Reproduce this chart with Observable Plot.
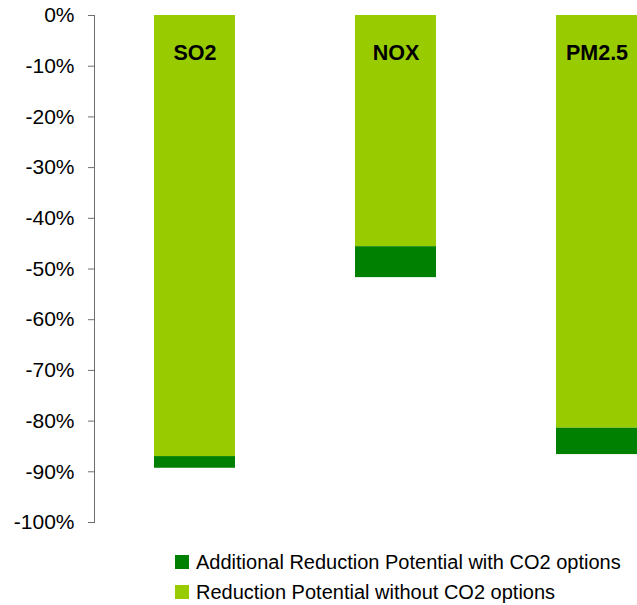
<!DOCTYPE html>
<html>
<head>
<meta charset="utf-8">
<script src="https://cdn.jsdelivr.net/npm/d3@7"></script>
<script src="https://cdn.jsdelivr.net/npm/@observablehq/plot@0.6"></script>
<style>
  body { margin: 0; background: #fff; font-family: "Liberation Sans", Arial, sans-serif; }
  #chart svg { display: block; }
  .legend { margin-top: 7px; padding-left: 175px; font-size: 20px; color: #000; }
  .legend .row { display: flex; align-items: center; height: 30px; }
  .legend .sw { width: 14px; height: 14px; margin-right: 7px; }
</style>
</head>
<body>
<div id="chart"></div>
<script>
const categories = ["SO2", "NOX", "PM2.5"];
const withoutCO2 = [-87.0, -45.6, -81.4];
const additionalCO2 = [-2.3, -6.1, -5.2];
const seriesNames = ["Reduction Potential without CO2 options", "Additional Reduction Potential with CO2 options"];
const seriesColors = ["#99CC00", "#008000"];
const yTicks = [0, -10, -20, -30, -40, -50, -60, -70, -80, -90, -100];
const legendOrder = [1, 0];

const rows = [];
categories.forEach((c, i) => {
  rows.push({cat: c, series: seriesNames[0], value: withoutCO2[i]});
  rows.push({cat: c, series: seriesNames[1], value: additionalCO2[i]});
});

const chart = Plot.plot({
  width: 637,
  height: 540,
  marginTop: 15,
  marginBottom: 18,
  marginLeft: 94,
  marginRight: 0,
  style: {fontFamily: "'Liberation Sans', Arial, sans-serif", fontSize: "20px", color: "#000", background: "#fff"},
  x: {domain: categories, paddingInner: 0.597, paddingOuter: 0.149, align: 1, axis: null},
  y: {domain: [-100, 0], axis: null},
  color: {domain: seriesNames, range: seriesColors},
  marks: [
    Plot.barY(rows, Plot.stackY({x: "cat", y: "value", fill: "series"})),
    Plot.frame({anchor: "left", stroke: "#6e6e6e"}),
    Plot.axisY({ticks: yTicks, tickFormat: d => d + "%", tickSize: 6, tickPadding: 14, stroke: "#6e6e6e", fill: "#000", fontSize: 21, label: null}),
    Plot.text(categories, {x: d => d, text: d => d, frameAnchor: "top", dy: 38, lineAnchor: "middle", fontWeight: "bold", fontSize: 21.5, fill: "#000"})
  ]
});
document.getElementById("chart").appendChild(chart);

const legend = document.createElement("div");
legend.className = "legend";
legendOrder.forEach(i => {
  const row = document.createElement("div");
  row.className = "row";
  const sw = document.createElement("span");
  sw.className = "sw";
  sw.style.background = seriesColors[i];
  const t = document.createElement("span");
  t.textContent = seriesNames[i];
  row.appendChild(sw);
  row.appendChild(t);
  legend.appendChild(row);
});
document.body.appendChild(legend);
</script>
</body>
</html>
